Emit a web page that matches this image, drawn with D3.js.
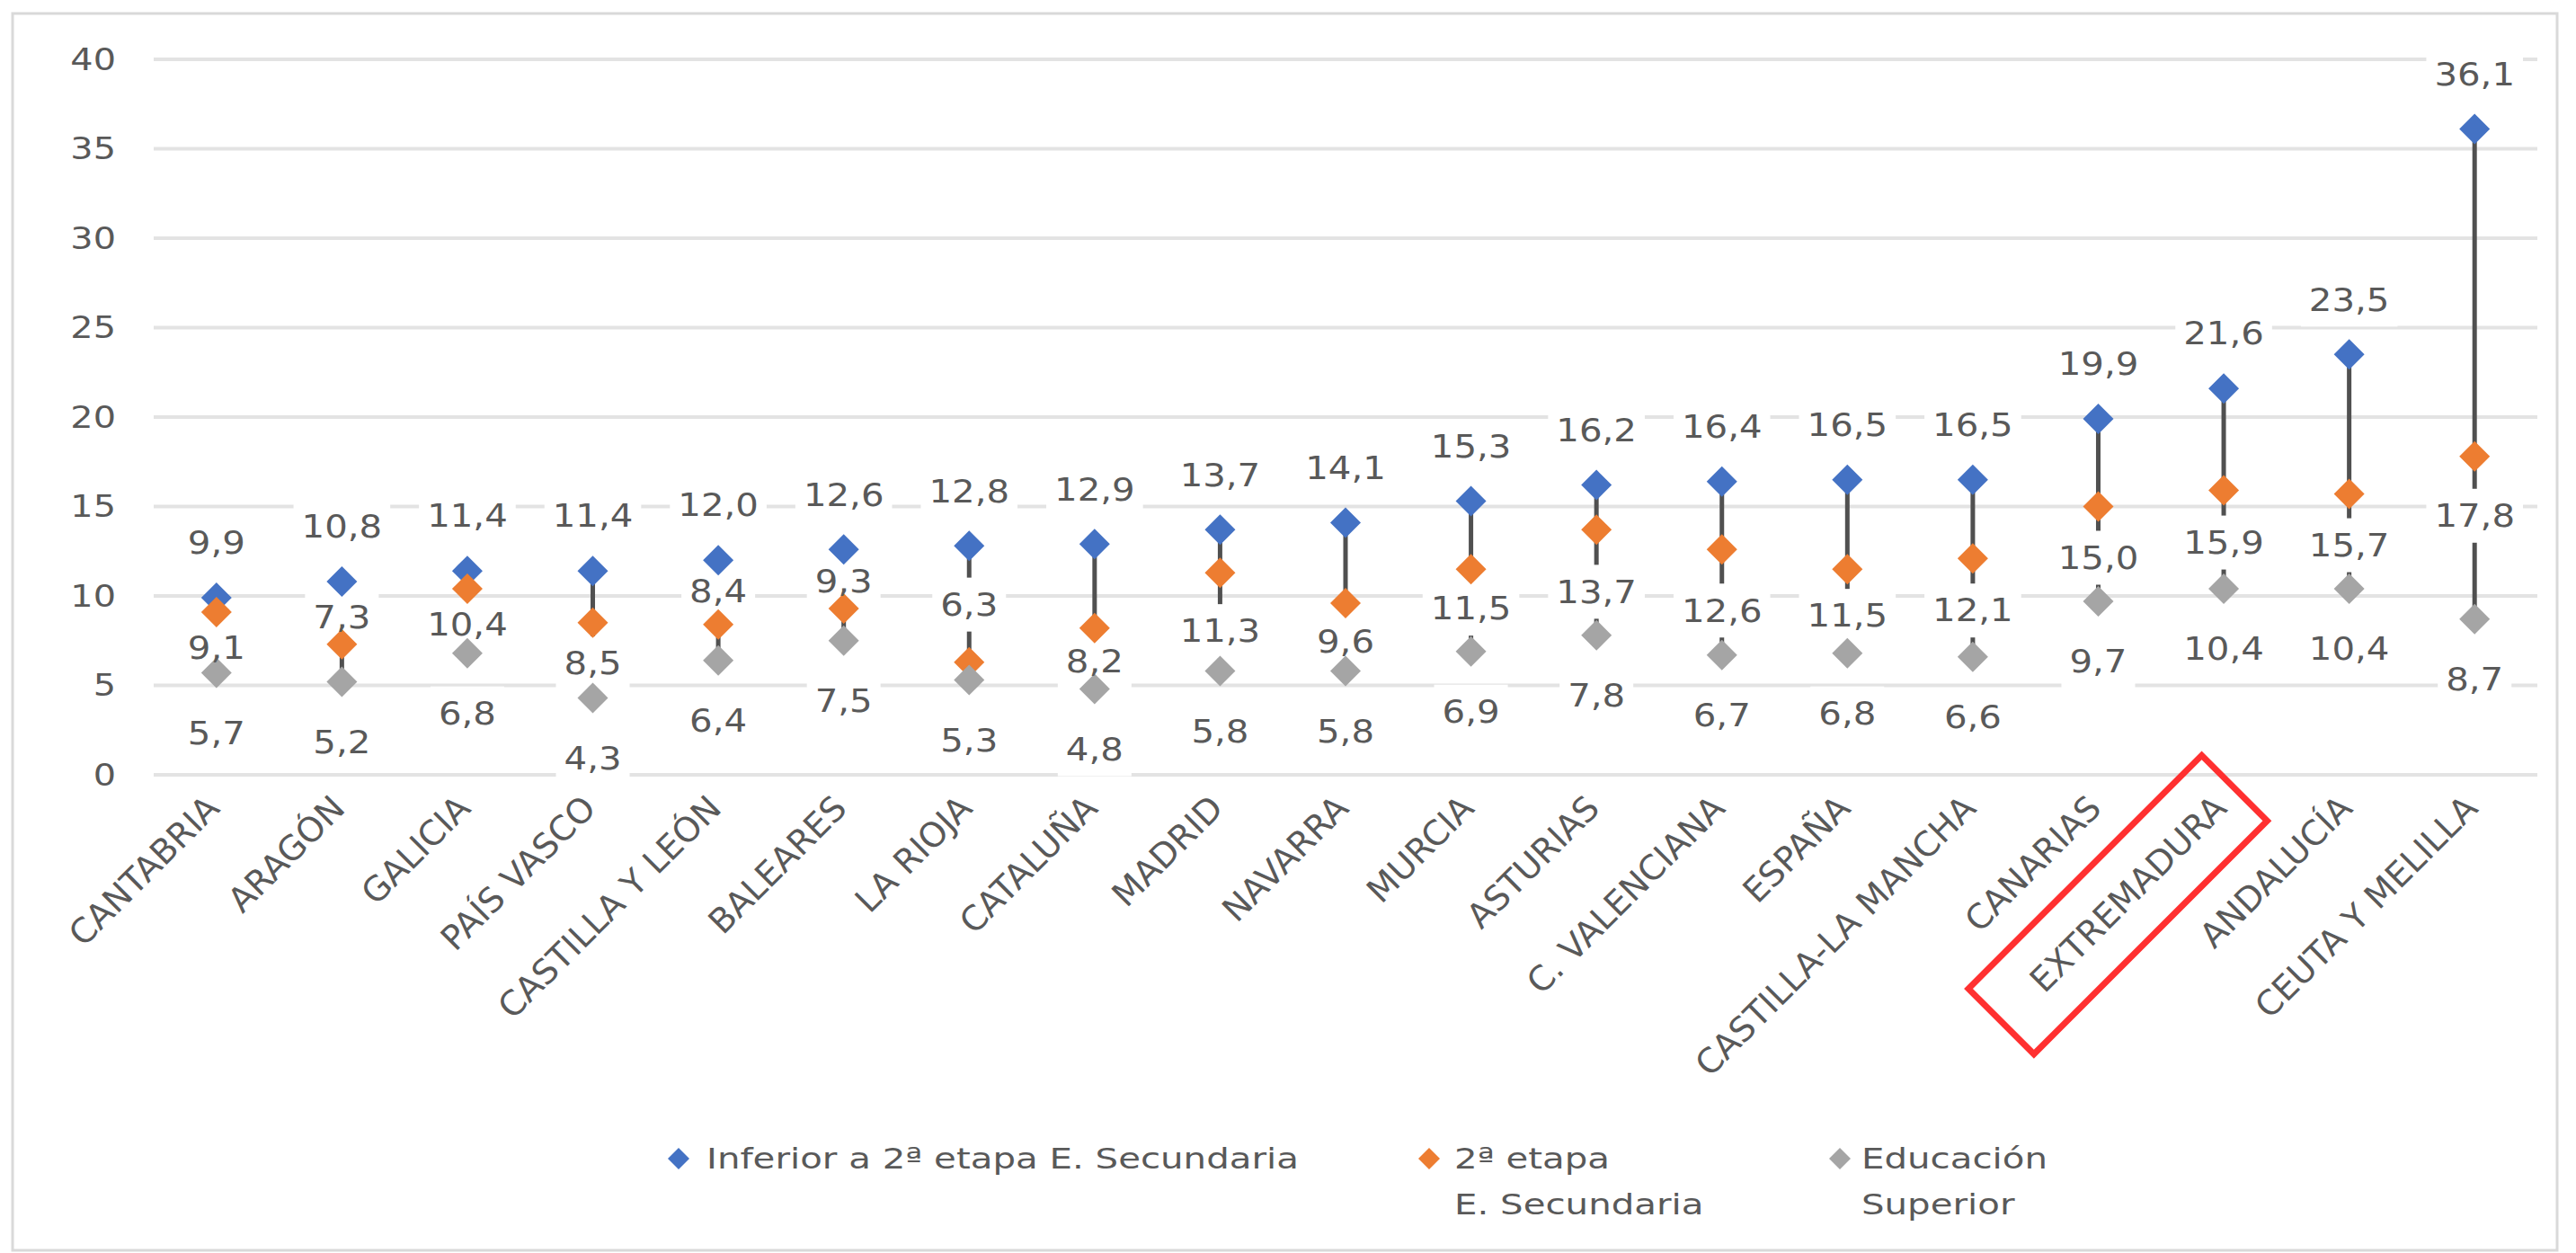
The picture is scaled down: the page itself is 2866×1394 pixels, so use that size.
<!DOCTYPE html>
<html><head><meta charset="utf-8">
<script src="https://cdn.jsdelivr.net/npm/d3@7"></script>
<style>html,body{margin:0;padding:0;background:#fff;} svg{display:block;}</style>
</head><body>
<svg id="chart" width="2866" height="1394"></svg>
<script>
const categories = ["CANTABRIA","ARAGÓN","GALICIA","PAÍS VASCO","CASTILLA Y LEÓN","BALEARES","LA RIOJA","CATALUÑA","MADRID","NAVARRA","MURCIA","ASTURIAS","C. VALENCIANA","ESPAÑA","CASTILLA-LA MANCHA","CANARIAS","EXTREMADURA","ANDALUCÍA","CEUTA Y MELILLA"];
const inferior = [9.9,10.8,11.4,11.4,12.0,12.6,12.8,12.9,13.7,14.1,15.3,16.2,16.4,16.5,16.5,19.9,21.6,23.5,36.1];
const segunda  = [9.1,7.3,10.4,8.5,8.4,9.3,6.3,8.2,11.3,9.6,11.5,13.7,12.6,11.5,12.1,15.0,15.9,15.7,17.8];
const superior = [5.7,5.2,6.8,4.3,6.4,7.5,5.3,4.8,5.8,5.8,6.9,7.8,6.7,6.8,6.6,9.7,10.4,10.4,8.7];
const yTicks = [0,5,10,15,20,25,30,35,40];
const legendLabels = [["Inferior a 2ª etapa E. Secundaria"],["2ª etapa","E. Secundaria"],["Educación","Superior"]];
const highlighted = "EXTREMADURA";
// manual label placement of the "2ª etapa" series labels (px from marker; negative = above)
const segundaLabelShift = [40,-30,40,45,-37,-30,-64,37,65,43,44,69,68,52,58,57,58,57,66];

const colors = ["#4472C4","#ED7D31","#A5A5A5"];
const textColor = "#595959";
const FONT = "DejaVu Sans";
const fmt = v => d3.format(".1f")(v).replace(".", ",");

const svg = d3.select("#chart");
svg.append("rect").attr("x",14).attr("y",15).attr("width",2831).attr("height",1376)
  .attr("fill","#fff").attr("stroke","#d9d9d9").attr("stroke-width",3);

const x = d3.scaleBand().domain(categories).range([171, 2823]);
const y = d3.scaleLinear().domain([0,40]).range([862, 66]);
const cx = c => x(c) + x.bandwidth()/2;

// gridlines
svg.append("g").selectAll("line").data(yTicks).join("line")
  .attr("x1",171).attr("x2",2823).attr("y1",d=>y(d)).attr("y2",d=>y(d))
  .attr("stroke","#e3e3e3").attr("stroke-width",4);

// y tick labels
svg.append("g").selectAll("text").data(yTicks).join("text")
  .attr("x",129).attr("y",d=>y(d)).attr("dy","0.35em").attr("text-anchor","end")
  .attr("font-family",FONT).attr("font-size",34).attr("fill",textColor)
  .attr("transform",`translate(129,0) scale(1.17,1) translate(-129,0)`)
  .text(d=>d);

// high-low lines
const rows = categories.map((c,i)=>({c,i,vals:[inferior[i],segunda[i],superior[i]]}));
svg.append("g").selectAll("line").data(rows).join("line")
  .attr("x1",d=>cx(d.c)).attr("x2",d=>cx(d.c))
  .attr("y1",d=>y(d3.max(d.vals))).attr("y2",d=>y(d3.min(d.vals)))
  .attr("stroke","#505050").attr("stroke-width",5);

const bgG = svg.append("g");
const markG = svg.append("g");
const txtG = svg.append("g");

const diamond = h => `M0,${-h}L${h},0L0,${h}L${-h},0Z`;

const series = [inferior, segunda, superior];
const labelY = [
  (v,i)=>y(v)-61,
  (v,i)=>y(v)+segundaLabelShift[i],
  (v,i)=>y(v)+67
];
series.forEach((s,k)=>{
  markG.append("g").selectAll("path").data(s).join("path")
    .attr("d",diamond(17)).attr("fill",colors[k])
    .attr("transform",(d,i)=>`translate(${cx(categories[i])},${y(d)})`);
  txtG.append("g").selectAll("text").data(s).join("text")
    .attr("font-family",FONT).attr("font-size",35).attr("fill",textColor)
    .attr("text-anchor","middle").attr("dy","0.35em")
    .attr("transform",(d,i)=>`translate(${cx(categories[i])},${labelY[k](d,i)}) scale(1.15,1)`)
    .text(d=>fmt(d))
    .each(function(d,i){
      const b=this.getBBox();
      const w=b.width*1.15+18, h=60;
      bgG.append("rect").attr("x",cx(categories[i])-w/2).attr("y",labelY[k](d,i)-h/2)
        .attr("width",w).attr("height",h).attr("fill","#fff");
    });
});

// category labels
const catG = svg.append("g").selectAll("g").data(categories).join("g")
  .attr("transform",c=>`translate(${cx(c)-4},892) rotate(-45)`);
catG.append("text").attr("text-anchor","end").attr("dy","0.35em")
  .attr("font-family",FONT).attr("font-size",38).attr("fill",textColor)
  .text(c=>c);
catG.filter(c=>c===highlighted).append("rect")
  .attr("x",-345).attr("y",-51).attr("width",367).attr("height",103)
  .attr("fill","none").attr("stroke","#ff3030").attr("stroke-width",7);

// legend
const legPos = [{mx:755,tx:786},{mx:1590,tx:1618},{mx:2047,tx:2071}];
const legY = 1289, legLine = 51;
legendLabels.forEach((lines,k)=>{
  svg.append("path").attr("d",diamond(12)).attr("fill",colors[k])
    .attr("transform",`translate(${legPos[k].mx},${legY})`);
  const t = svg.append("text").attr("font-family",FONT).attr("font-size",32).attr("fill",textColor)
    .attr("transform",`translate(${legPos[k].tx},${legY}) scale(1.26,1)`);
  lines.forEach((ln,j)=>t.append("tspan").attr("x",0).attr("y",j*legLine).attr("dy","0.35em").text(ln));
});
</script>
</body></html>
